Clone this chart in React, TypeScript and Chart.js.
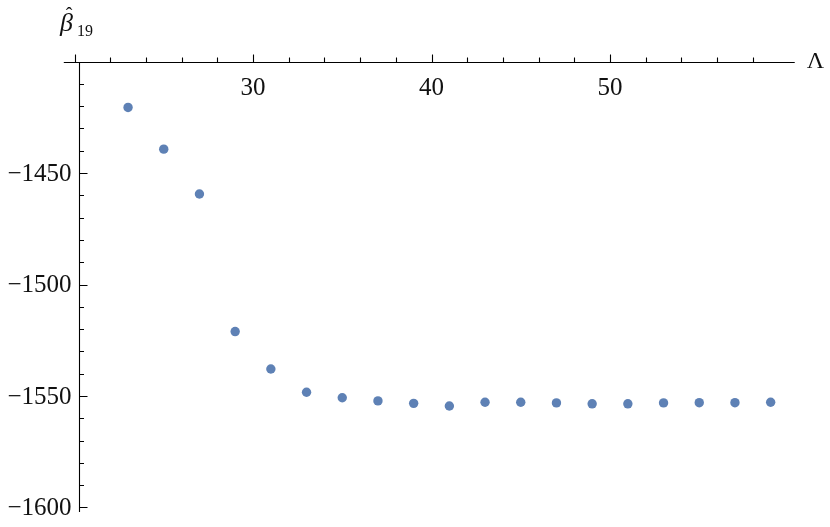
import React, { useEffect, useRef } from "react";
import { Chart, registerables } from "chart.js";

Chart.register(...registerables);

// ---- data ----
const lambdaValues = [23, 25, 27, 29, 31, 33, 35, 37, 39, 41, 43, 45, 47, 49, 51, 53, 55, 57, 59];
const betaValues = [
  -1420.6, -1439.3, -1459.4, -1521.1, -1537.9, -1548.3, -1550.8, -1552.2, -1553.3, -1554.5,
  -1552.8, -1552.8, -1553.1, -1553.5, -1553.5, -1553.1, -1553.0, -1553.0, -1552.8,
];
const xMajorTicks = [20, 30, 40, 50];
const xMinorTicks = [22, 24, 26, 28, 32, 34, 36, 38, 42, 44, 46, 48, 52, 54, 56, 58];
const xTickLabels = [30, 40, 50];
const yMajorTicks = [-1450, -1500, -1550, -1600];
const yMinorTicks = [
  -1410, -1420, -1430, -1440, -1460, -1470, -1480, -1490, -1510, -1520, -1530, -1540,
  -1560, -1570, -1580, -1590,
];
const yTickLabels = [-1450, -1500, -1550, -1600];

// axis geometry in data units
const X_AXIS_AT_Y = -1400;
const Y_AXIS_AT_X = 20.25;
const X_AXIS_FROM = 19.4;
const X_AXIS_TO = 60.35;
const Y_AXIS_TO = -1602;

const FONT = '"Liberation Serif", "Times New Roman", serif';

const axesPlugin = {
  id: "mmaAxes",
  beforeDatasetsDraw(chart: any) {
    const ctx = chart.ctx as CanvasRenderingContext2D;
    const xs = chart.scales.x;
    const ys = chart.scales.y;
    const px = (v: number) => xs.getPixelForValue(v);
    const py = (v: number) => ys.getPixelForValue(v);
    const snap = (p: number) => Math.round(p) + 0.5;

    ctx.save();
    ctx.strokeStyle = "#000";
    ctx.lineWidth = 1.1;

    const axY = snap(py(X_AXIS_AT_Y));
    const axX = snap(px(Y_AXIS_AT_X));

    // horizontal axis
    ctx.beginPath();
    ctx.moveTo(px(X_AXIS_FROM), axY);
    ctx.lineTo(px(X_AXIS_TO), axY);
    // vertical axis
    ctx.moveTo(axX, axY);
    ctx.lineTo(axX, py(Y_AXIS_TO));
    // x ticks (pointing up)
    for (const t of xMajorTicks) {
      const x = snap(px(t));
      ctx.moveTo(x, axY);
      ctx.lineTo(x, axY - 8);
    }
    for (const t of xMinorTicks) {
      const x = snap(px(t));
      ctx.moveTo(x, axY);
      ctx.lineTo(x, axY - 5);
    }
    // y ticks (pointing right)
    for (const t of yMajorTicks) {
      const y = snap(py(t));
      ctx.moveTo(axX, y);
      ctx.lineTo(axX + 8, y);
    }
    for (const t of yMinorTicks) {
      const y = snap(py(t));
      ctx.moveTo(axX, y);
      ctx.lineTo(axX + 4.5, y);
    }
    ctx.stroke();

    // tick labels
    ctx.fillStyle = "#111";
    ctx.font = `25px ${FONT}`;
    ctx.textAlign = "center";
    ctx.textBaseline = "middle";
    for (const t of xTickLabels) {
      ctx.fillText(String(t), px(t), axY + 26);
    }
    ctx.textAlign = "right";
    for (const t of yTickLabels) {
      ctx.fillText("\u2212" + String(Math.abs(t)), axX - 8, py(t) + 1);
    }

    // axis labels
    ctx.textAlign = "left";
    ctx.font = `24px ${FONT}`;
    ctx.fillText("\u039B", px(X_AXIS_TO) + 12, axY - 1);

    ctx.textBaseline = "alphabetic";
    ctx.font = `italic 26px ${FONT}`;
    ctx.fillText("\u03B2", 60, 31);
    ctx.font = `20px ${FONT}`;
    ctx.textAlign = "center";
    ctx.fillText("\u02C6", 69, 22);
    ctx.textAlign = "left";
    ctx.font = `16px ${FONT}`;
    ctx.fillText("19", 77, 36);

    ctx.restore();
  },
};

export default function App() {
  const canvasRef = useRef<HTMLCanvasElement | null>(null);

  useEffect(() => {
    const canvas = canvasRef.current;
    if (!canvas) return;
    const points = lambdaValues.map((x, i) => ({ x, y: betaValues[i] }));
    const chart = new Chart(canvas, {
      type: "scatter",
      data: {
        datasets: [
          {
            data: points,
            backgroundColor: "#5E81B5",
            borderWidth: 0,
            pointRadius: 4.7,
            pointHoverRadius: 4.7,
          },
        ],
      },
      options: {
        responsive: false,
        animation: false,
        events: [],
        layout: { padding: { left: 56.65, right: 23.65, top: 50.35, bottom: 8.35 } },
        plugins: { legend: { display: false }, tooltip: { enabled: false } },
        scales: {
          x: { type: "linear", display: false, min: 19, max: 61 },
          y: { type: "linear", display: false, min: -1605, max: -1395 },
        },
      },
      plugins: [axesPlugin],
    });
    return () => chart.destroy();
  }, []);

  return (
    <div style={{ position: "fixed", left: 0, top: 0, width: 830, height: 527, background: "#fff" }}>
      <canvas ref={canvasRef} width={830} height={527} style={{ display: "block" }} />
    </div>
  );
}
